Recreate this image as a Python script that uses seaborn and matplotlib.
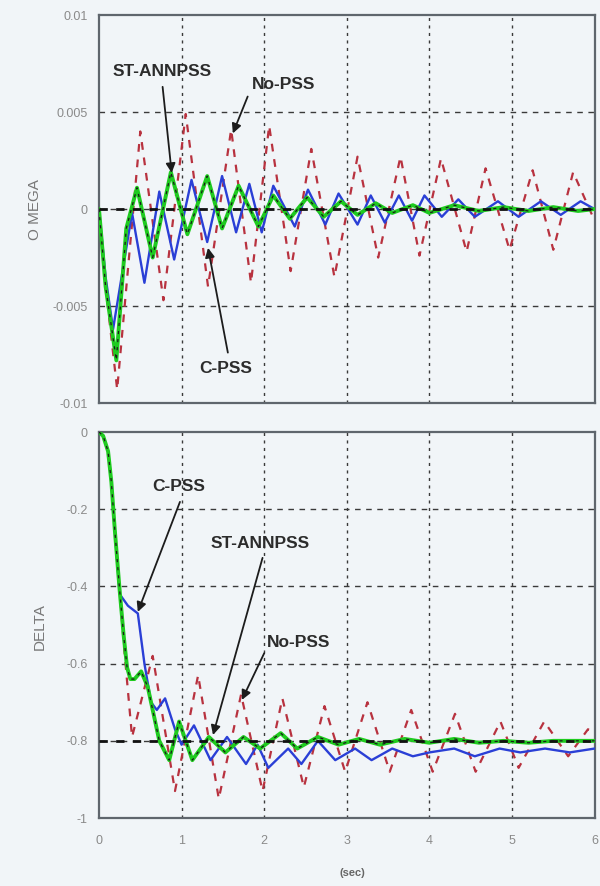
import numpy as np
import pandas as pd
import matplotlib
matplotlib.use("Agg")
import matplotlib.pyplot as plt
import seaborn as sns

# ---------------- data ----------------
# Rotor speed deviation (OMEGA) -- turning points of each response
omega_nopss_t = [0.0, 0.08, 0.22, 0.50, 0.78, 1.05, 1.32, 1.60, 1.84, 2.06, 2.32, 2.57,
                 2.85, 3.13, 3.38, 3.65, 3.88, 4.14, 4.45, 4.68, 4.97, 5.25, 5.50, 5.74, 6.0]
omega_nopss = [0.0, -0.0040, -0.0093, 0.0040, -0.0047, 0.0049, -0.0040, 0.0041, -0.0038, 0.0043,
               -0.0032, 0.0031, -0.0035, 0.0027, -0.0025, 0.0027, -0.0024, 0.0026, -0.0022, 0.0021,
               -0.0021, 0.0020, -0.0021, 0.0019, -0.0006]

omega_cpss_t = [0.0, 0.08, 0.17, 0.40, 0.55, 0.73, 0.91, 1.12, 1.31, 1.49, 1.66, 1.82, 1.97,
                2.11, 2.37, 2.53, 2.74, 2.90, 3.13, 3.29, 3.46, 3.63, 3.79, 3.94, 4.15, 4.35,
                4.55, 4.83, 5.08, 5.35, 5.59, 5.83, 6.0]
omega_cpss = [0.0, -0.0035, -0.0062, -0.0002, -0.0038, 0.0009, -0.0026, 0.0015, -0.0017, 0.0017,
              -0.0012, 0.0013, -0.0012, 0.0012, -0.0009, 0.0010, -0.0008, 0.0008, -0.0008, 0.0007,
              -0.0007, 0.0007, -0.0006, 0.0007, -0.0004, 0.0005, -0.0004, 0.0004, -0.0004, 0.0004,
              -0.0003, 0.0004, 0.0]

omega_ann_t = [0.0, 0.08, 0.21, 0.33, 0.46, 0.65, 0.87, 1.07, 1.31, 1.49, 1.69, 1.93, 2.11,
               2.31, 2.52, 2.72, 2.93, 3.13, 3.35, 3.55, 3.80, 4.00, 4.30, 4.60, 4.90, 5.20,
               5.50, 5.80, 6.0]
omega_ann = [0.0, -0.0040, -0.0078, -0.0010, 0.0011, -0.0025, 0.0019, -0.0013, 0.0017, -0.0010,
             0.0012, -0.0009, 0.0007, -0.0005, 0.0006, -0.0004, 0.0004, -0.0003, 0.0003, -0.0002,
             0.0002, -0.0002, 0.0002, -0.0001, 0.0001, -0.0001, 0.0001, -0.0001, 0.0]

# Rotor angle (DELTA)
delta_nopss_t = [0.0, 0.05, 0.11, 0.15, 0.19, 0.25, 0.30, 0.40, 0.65, 0.92, 1.20, 1.45, 1.72,
                 1.98, 2.22, 2.48, 2.73, 2.98, 3.25, 3.52, 3.78, 4.04, 4.31, 4.56, 4.86, 5.08,
                 5.39, 5.68, 5.92, 6.0]
delta_nopss = [0.0, -0.01, -0.05, -0.13, -0.25, -0.41, -0.55, -0.79, -0.58, -0.93, -0.63, -0.95,
               -0.68, -0.93, -0.69, -0.92, -0.71, -0.88, -0.70, -0.88, -0.72, -0.88, -0.73, -0.88,
               -0.75, -0.87, -0.75, -0.84, -0.77, -0.78]

delta_cpss_t = [0.0, 0.05, 0.11, 0.15, 0.19, 0.25, 0.35, 0.47, 0.55, 0.63, 0.70, 0.80, 0.92,
                1.00, 1.15, 1.35, 1.55, 1.78, 1.92, 2.05, 2.29, 2.45, 2.65, 2.86, 3.10, 3.30,
                3.55, 3.80, 4.00, 4.30, 4.55, 4.85, 5.10, 5.40, 5.70, 6.0]
delta_cpss = [0.0, -0.01, -0.05, -0.13, -0.25, -0.42, -0.45, -0.47, -0.60, -0.70, -0.72, -0.69,
              -0.77, -0.81, -0.76, -0.85, -0.79, -0.86, -0.81, -0.87, -0.82, -0.86, -0.80, -0.85,
              -0.82, -0.85, -0.82, -0.84, -0.83, -0.82, -0.84, -0.82, -0.83, -0.82, -0.83, -0.82]

delta_ann_t = [0.0, 0.05, 0.11, 0.15, 0.19, 0.25, 0.30, 0.34, 0.38, 0.43, 0.51, 0.59, 0.73,
               0.85, 0.97, 1.13, 1.33, 1.53, 1.75, 1.95, 2.20, 2.40, 2.65, 2.90, 3.15, 3.40,
               3.70, 4.00, 4.30, 4.60, 4.90, 5.20, 5.50, 5.80, 6.0]
delta_ann = [0.0, -0.01, -0.05, -0.13, -0.25, -0.41, -0.53, -0.61, -0.64, -0.64, -0.62, -0.66,
             -0.80, -0.85, -0.75, -0.85, -0.79, -0.83, -0.79, -0.82, -0.78, -0.82, -0.79, -0.81,
             -0.795, -0.81, -0.795, -0.805, -0.795, -0.805, -0.80, -0.805, -0.80, -0.80, -0.80]

# steady-state reference levels
omega_ref = 0.0
delta_ref = -0.8

x_ticks = [0, 1, 2, 3, 4, 5, 6]
omega_ticks = [-0.01, -0.005, 0, 0.005, 0.01]
omega_ticklabels = ["-0.01", "-0.005", "0", "0.005", "0.01"]
delta_ticks = [-1, -0.8, -0.6, -0.4, -0.2, 0]
delta_ticklabels = ["-1", "-0.8", "-0.6", "-0.4", "-0.2", "0"]

# ---------------- styling ----------------
sns.set_theme(style="white")
plt.rcParams["font.family"] = ["Liberation Sans", "DejaVu Sans"]

BG = "#f1f5f8"
RED = "#b8323f"
BLUE = "#2a3fd6"
GREEN = "#1fcb1f"
FRAME = "#5f666d"
TICKC = "#8a8a8a"

fig = plt.figure(figsize=(6.0, 8.86), dpi=100, facecolor=BG)
ax1 = fig.add_axes([0.165, 0.5451, 0.826, 0.4379])
ax2 = fig.add_axes([0.165, 0.0767, 0.826, 0.4357])


def frame(ax, yticks, ylabels, ylim):
    ax.set_facecolor(BG)
    ax.set_xlim(0, 6)
    ax.set_ylim(*ylim)
    ax.set_xticks(x_ticks)
    ax.set_yticks(yticks)
    ax.set_yticklabels(ylabels)
    for s in ax.spines.values():
        s.set_color(FRAME)
        s.set_linewidth(1.6)
    ax.tick_params(axis="y", direction="in", length=3, color=FRAME,
                   labelsize=9, labelcolor=TICKC, pad=8)
    ax.tick_params(axis="x", direction="in", length=3, color=FRAME,
                   labelsize=9, labelcolor=TICKC, pad=12)
    # dotted MATLAB-like grid
    for x in x_ticks[1:-1]:
        ax.axvline(x, color="#3a3a3a", lw=1.0, linestyle=(0, (2.2, 3.2)), zorder=1)
    for y in yticks[1:-1]:
        ax.axhline(y, color="#3a3a3a", lw=1.0, linestyle=(0, (4, 4)), zorder=1)
    ax.set_xlabel("")
    ax.set_ylabel("")


def draw(ax, t_no, v_no, t_c, v_c, t_a, v_a, ref):
    sns.lineplot(x=t_no, y=v_no, ax=ax, color=RED, linewidth=1.6, estimator=None, sort=False,
                 linestyle=(0, (3.5, 3.5)), zorder=3)
    sns.lineplot(x=t_c, y=v_c, ax=ax, color=BLUE, linewidth=1.7, estimator=None, sort=False,
                 solid_joinstyle="round", zorder=4)
    sns.lineplot(x=t_a, y=v_a, ax=ax, color=GREEN, linewidth=2.8, estimator=None, sort=False,
                 solid_joinstyle="round", zorder=5)
    sns.lineplot(x=t_a, y=v_a, ax=ax, color="#1a1a1a", linewidth=0.9, estimator=None, sort=False,
                 linestyle=(0, (2.5, 4)), zorder=6)
    ax.axhline(ref, color="#111111", lw=2.0, linestyle=(0, (3, 3)), zorder=6)


frame(ax1, omega_ticks, omega_ticklabels, (-0.01, 0.01))
frame(ax2, delta_ticks, delta_ticklabels, (-1, 0))
ax1.set_xticklabels([])
ax2.set_xticklabels([str(v) for v in x_ticks])

draw(ax1, omega_nopss_t, omega_nopss, omega_cpss_t, omega_cpss, omega_ann_t, omega_ann, omega_ref)
draw(ax2, delta_nopss_t, delta_nopss, delta_cpss_t, delta_cpss, delta_ann_t, delta_ann, delta_ref)

arrow = dict(arrowstyle="-|>", color="#1c1c1c", lw=1.3, mutation_scale=14, shrinkA=0, shrinkB=0)
txt = dict(fontsize=12.5, color="#2c2c2c", fontweight="bold", ha="center", va="center", zorder=10)

# OMEGA annotations
ax1.text(0.76, 0.0071, "ST-ANNPSS", **txt)
ax1.annotate("", xy=(0.88, 0.00186), xytext=(0.77, 0.0063), arrowprops=arrow, zorder=10)
ax1.text(2.24, 0.0064, "No-PSS", **txt)
ax1.annotate("", xy=(1.62, 0.0039), xytext=(1.80, 0.0058), arrowprops=arrow, zorder=10)
ax1.text(1.53, -0.0082, "C-PSS", **txt)
ax1.annotate("", xy=(1.32, -0.0020), xytext=(1.56, -0.0074), arrowprops=arrow, zorder=10)

# DELTA annotations
ax2.text(0.96, -0.142, "C-PSS", **txt)
ax2.annotate("", xy=(0.47, -0.466), xytext=(0.98, -0.181), arrowprops=arrow, zorder=10)
ax2.text(1.95, -0.288, "ST-ANNPSS", **txt)
ax2.annotate("", xy=(1.38, -0.785), xytext=(1.98, -0.326), arrowprops=arrow, zorder=10)
ax2.text(2.42, -0.544, "No-PSS", **txt)
ax2.annotate("", xy=(1.73, -0.694), xytext=(2.00, -0.573), arrowprops=arrow, zorder=10)

fig.text(0.058, 0.763, "O MEGA", rotation=90, ha="center", va="center",
         fontsize=11, color="#777777")
fig.text(0.066, 0.293, "DELTA", rotation=90, ha="center", va="center",
         fontsize=11, color="#777777")
fig.text(0.587, 0.015, "(sec)", ha="center", va="center", fontsize=8, color="#666666",
         fontweight="bold")

fig.savefig("out.png", dpi=100, facecolor=BG)
